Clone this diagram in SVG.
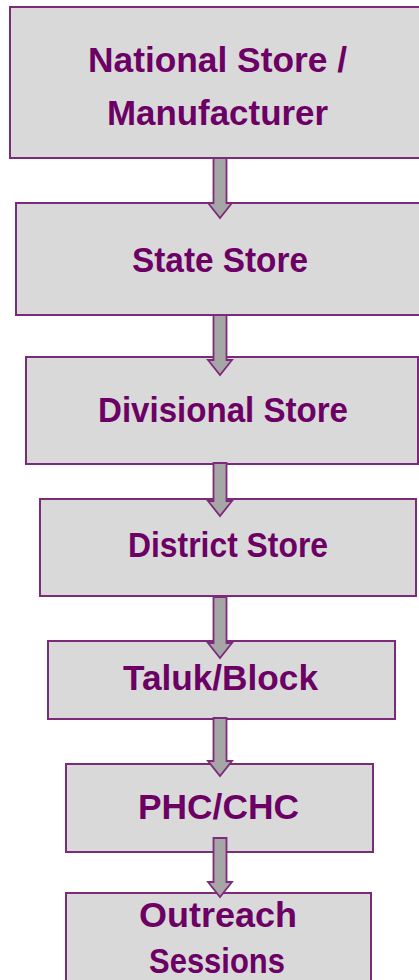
<svg xmlns="http://www.w3.org/2000/svg" width="419" height="980" viewBox="0 0 419 980">
<style>
.box{fill:#D9D9D9;stroke:#7E2A7A;stroke-width:2}
.lbl{font-family:"Liberation Sans",Arial,sans-serif;font-weight:bold;font-size:34.5px;fill:#6C0064;text-anchor:middle}
.arr{fill:#A6A6A6;stroke:#7E2A7A;stroke-width:1.8;stroke-linejoin:miter}
</style>
<rect width="419" height="980" fill="#FFFFFF"/>
<g id="n1"><rect class="box" x="10" y="7" width="412" height="151"/>
<text class="lbl" x="217.5" y="72" textLength="259" lengthAdjust="spacingAndGlyphs">National Store /</text>
<text class="lbl" x="217.5" y="125" textLength="221" lengthAdjust="spacingAndGlyphs">Manufacturer</text></g>
<g id="n2"><rect class="box" x="16" y="203" width="406" height="112"/>
<text class="lbl" x="220" y="272" textLength="176" lengthAdjust="spacingAndGlyphs">State Store</text></g>
<g id="n3"><rect class="box" x="26" y="357" width="392" height="107"/>
<text class="lbl" x="223" y="422" textLength="250" lengthAdjust="spacingAndGlyphs">Divisional Store</text></g>
<g id="n4"><rect class="box" x="40" y="499" width="376" height="97"/>
<text class="lbl" x="228" y="557" textLength="200" lengthAdjust="spacingAndGlyphs">District Store</text></g>
<g id="n5"><rect class="box" x="48" y="641" width="347" height="78"/>
<text class="lbl" x="220.5" y="690" textLength="195" lengthAdjust="spacingAndGlyphs">Taluk/Block</text></g>
<g id="n6"><rect class="box" x="66" y="764" width="307" height="88"/>
<text class="lbl" x="218.5" y="819" textLength="161" lengthAdjust="spacingAndGlyphs">PHC/CHC</text></g>
<g id="n7"><rect class="box" x="66" y="893" width="305" height="100"/>
<text class="lbl" x="218" y="927" textLength="158" lengthAdjust="spacingAndGlyphs">Outreach</text>
<text class="lbl" x="217" y="973" textLength="136" lengthAdjust="spacingAndGlyphs">Sessions</text></g>
<g id="connectors">
<path class="arr" d="M213.5,158 H226.5 V203 H232 L220,218 L208,203 H213.5 Z"/>
<path class="arr" d="M213.5,315 H226.5 V360 H232 L220,375 L208,360 H213.5 Z"/>
<path class="arr" d="M213.5,463 H226.5 V501 H232 L220,516 L208,501 H213.5 Z"/>
<path class="arr" d="M213.5,597 H226.5 V643 H232 L220,658 L208,643 H213.5 Z"/>
<path class="arr" d="M213.5,718 H226.5 V761 H232 L220,776 L208,761 H213.5 Z"/>
<path class="arr" d="M213.5,838 H226.5 V882 H232 L220,897 L208,882 H213.5 Z"/>
</g>
</svg>
